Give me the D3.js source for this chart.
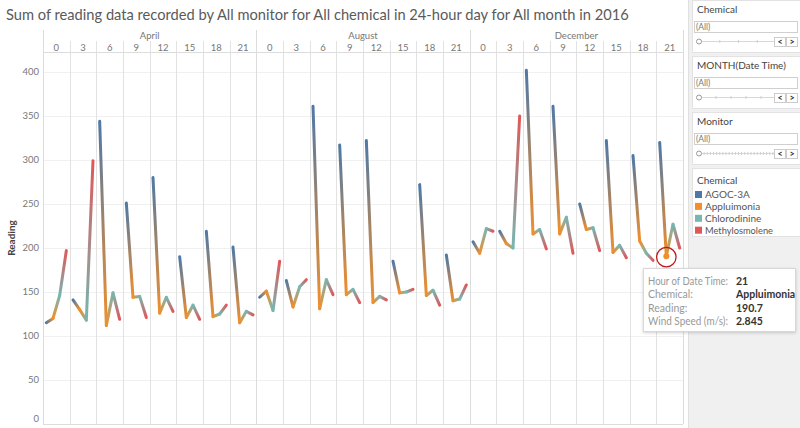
<!DOCTYPE html>
<html><head><meta charset="utf-8">
<script src="https://cdn.jsdelivr.net/npm/d3@7"></script>
<style>
body{margin:0;background:#fff;overflow:hidden}
svg{display:block;font-family:Lato,"Open Sans",sans-serif}
</style></head>
<body><svg id="c" width="800" height="428"></svg>
<script>
// ---- data ----
const months = ["April", "August", "December"];
const hours = [0, 3, 6, 9, 12, 15, 18, 21];
const chemicals = ["AGOC-3A", "Appluimonia", "Chlorodinine", "Methylosmolene"];
const chemColors = ["#4e79a7", "#f28e2b", "#76b7b2", "#e15759"];
const yTicks = [0, 50, 100, 150, 200, 250, 300, 350, 400];
// readings per hour: [AGOC-3A, Appluimonia, Chlorodinine, Methylosmolene]
const aprilReadings = [
  [115, 120, 146, 197], [141, 130, 118, 299], [344, 112, 149, 119], [251, 144, 145, 121],
  [280, 126, 144, 128], [190, 121, 135, 119], [219, 122, 125, 135], [201, 115, 128, 124]
];
const augustReadings = [
  [144, 151, 129, 185], [163, 133, 156, 164], [361, 131, 164, 147], [317, 147, 153, 138],
  [322, 138, 145, 141], [185, 149, 150, 153], [272, 146, 152, 135], [192, 140, 142, 158]
];
const decemberReadings = [
  [207, 194, 222, 219], [219, 205, 200, 350], [402, 216, 221, 199], [361, 216, 235, 194],
  [250, 221, 223, 197], [322, 195, 203, 189], [305, 208, 194, 186], [320, 190.7, 227, 200]
];
const monthReadings = [aprilReadings, augustReadings, decemberReadings];
const tooltipLabels = ["Hour of Date Time:", "Chemical:", "Reading:", "Wind Speed (m/s):"];
const tooltipValues = ["21", "Appluimonia", "190.7", "2.845"];
const highlight = {month: "December", hour: 21, chem: "Appluimonia"};
const filterTitles = ["Chemical", "MONTH(Date Time)", "Monitor"];

// ---- helpers ----
function fit(sel, maxW) {
  sel.each(function () {
    const w = this.getComputedTextLength();
    if (w > maxW) d3.select(this).attr("textLength", maxW).attr("lengthAdjust", "spacingAndGlyphs");
  });
  return sel;
}

// ---- layout ----
const svg = d3.select("#c");
const L = 43, R = 683, T = 52, B = 424;
const defs = svg.append("defs");

const cols = [];
months.forEach(m => hours.forEach(h => cols.push(m + "|" + h)));
const x = d3.scaleBand().domain(cols).range([L, R]);
const xc = d3.scaleBand().domain(chemicals).range([0, x.bandwidth()]);
const monthX = d3.scaleBand().domain(months).range([L, R]);
const y = d3.scaleLinear().domain([0, 422.7]).range([B, T]);
const color = d3.scaleOrdinal().domain(chemicals).range(chemColors);

// title (font size tuned to span the reference width)
const title = svg.append("text").attr("x", 6).attr("y", 20).attr("font-size", 16).attr("fill", "#5a5a5a")
  .text("Sum of reading data recorded by All monitor for All chemical in 24-hour day for All month in 2016");
const tw = title.node().getComputedTextLength();
title.attr("font-size", Math.min(17, 16 * 623 / tw));

// horizontal gridlines
svg.append("g").selectAll("line").data(yTicks.slice(1)).join("line")
  .attr("x1", L).attr("x2", R).attr("y1", d => Math.round(y(d)) + 0.5).attr("y2", d => Math.round(y(d)) + 0.5)
  .attr("stroke", "#f0f0f0");

// vertical hour separators
svg.append("g").selectAll("line").data(cols.slice(1)).join("line")
  .attr("x1", d => Math.round(x(d)) + 0.5).attr("x2", d => Math.round(x(d)) + 0.5)
  .attr("y1", 41).attr("y2", B).attr("stroke", "#e2e2e2");
// month separators and borders
svg.append("g").selectAll("line").data(months.concat(["end"])).join("line")
  .attr("x1", d => Math.round(d === "end" ? R : monthX(d)) + 0.5)
  .attr("x2", d => Math.round(d === "end" ? R : monthX(d)) + 0.5)
  .attr("y1", 30).attr("y2", B).attr("stroke", "#dcdcdc");
svg.append("line").attr("x1", L).attr("x2", R).attr("y1", T + 0.5).attr("y2", T + 0.5).attr("stroke", "#dcdcdc");
svg.append("line").attr("x1", L).attr("x2", R).attr("y1", B + 0.5).attr("y2", B + 0.5).attr("stroke", "#dcdcdc");

// header labels
svg.append("g").selectAll("text").data(months).join("text")
  .attr("x", d => monthX(d) + monthX.bandwidth() / 2).attr("y", 39)
  .attr("text-anchor", "middle").attr("font-size", 9.5).attr("fill", "#777").text(d => d);
svg.append("g").selectAll("text").data(cols).join("text")
  .attr("x", d => x(d) + x.bandwidth() / 2).attr("y", 50.5)
  .attr("text-anchor", "middle").attr("font-size", 9.5).attr("fill", "#777").text(d => d.split("|")[1]);

// y axis labels
svg.append("g").selectAll("text").data(yTicks).join("text")
  .attr("x", 39).attr("y", d => y(d) + (d === 0 ? -2.5 : 3.2))
  .attr("text-anchor", "end").attr("font-size", 9.5).attr("fill", "#777").text(d => d);
svg.append("text").attr("transform", "translate(15,238) rotate(-90)")
  .attr("text-anchor", "middle").attr("font-size", 10).attr("fill", "#444").attr("font-weight", 700).text("Reading");

// lines with gradient segments
const segs = [];
months.forEach((m, mi) => hours.forEach((h, hi) => {
  const vals = monthReadings[mi][hi];
  for (let i = 0; i < 3; i++) {
    segs.push({id: `g${mi}_${hi}_${i}`,
      x1: x(m + "|" + h) + xc(chemicals[i]) + xc.bandwidth() / 2, y1: y(vals[i]),
      x2: x(m + "|" + h) + xc(chemicals[i + 1]) + xc.bandwidth() / 2, y2: y(vals[i + 1]),
      c1: color(chemicals[i]), c2: color(chemicals[i + 1])});
  }
}));
const grads = defs.selectAll("linearGradient").data(segs).join("linearGradient")
  .attr("id", d => d.id).attr("gradientUnits", "userSpaceOnUse")
  .attr("x1", d => d.x1).attr("y1", d => d.y1).attr("x2", d => d.x2).attr("y2", d => d.y2);
grads.append("stop").attr("offset", 0).attr("stop-color", d => d.c1);
grads.append("stop").attr("offset", 1).attr("stop-color", d => d.c2);
svg.append("g").selectAll("line").data(segs).join("line")
  .attr("x1", d => d.x1).attr("y1", d => d.y1).attr("x2", d => d.x2).attr("y2", d => d.y2)
  .attr("stroke", d => `url(#${d.id})`).attr("stroke-width", 3).attr("stroke-linecap", "round");

// highlighted point
const hmi = months.indexOf(highlight.month), hhi = hours.indexOf(highlight.hour), hci = chemicals.indexOf(highlight.chem);
const hx = x(highlight.month + "|" + highlight.hour) + xc(highlight.chem) + xc.bandwidth() / 2;
const hy = y(monthReadings[hmi][hhi][hci]);
svg.append("circle").attr("cx", hx).attr("cy", hy).attr("r", 3).attr("fill", color(highlight.chem));
svg.append("circle").attr("cx", hx).attr("cy", hy + 1).attr("r", 9.7).attr("fill", "none")
  .attr("stroke", "#c0161c").attr("stroke-width", 1.3);

// right panel
svg.append("rect").attr("x", 688).attr("y", 0).attr("width", 112).attr("height", 428).attr("fill", "#f0f0f0");
svg.append("line").attr("x1", 688.5).attr("x2", 688.5).attr("y1", 0).attr("y2", 428).attr("stroke", "#e0e0e0");
const cardTops = [0, 56, 112];
filterTitles.forEach((t, i) => {
  const t0 = cardTops[i];
  const g = svg.append("g");
  g.append("rect").attr("x", 692.5).attr("y", t0 + 0.5).attr("width", 110).attr("height", 52)
    .attr("fill", "#fff").attr("stroke", "#e2e2e2");
  fit(g.append("text").attr("x", 697).attr("y", t0 + 13).attr("font-size", 10).attr("fill", "#444").text(t), 96);
  g.append("rect").attr("x", 694.5).attr("y", t0 + 21.5).attr("width", 103).attr("height", 11)
    .attr("fill", "#fff").attr("stroke", "#cfcfcf");
  g.append("text").attr("x", 696).attr("y", t0 + 30).attr("font-size", 8.5).attr("fill", "#777").text("(All)");
  g.append("line").attr("x1", 701).attr("x2", 776).attr("y1", t0 + 41.5).attr("y2", t0 + 41.5).attr("stroke", "#d8d8d8");
  const nt = [4, 5, 24][i];
  d3.range(1, nt).forEach(k => g.append("line")
    .attr("x1", 701 + k * 75 / nt).attr("x2", 701 + k * 75 / nt).attr("y1", t0 + 40).attr("y2", t0 + 43).attr("stroke", "#d0d0d0"));
  g.append("circle").attr("cx", 699).attr("cy", t0 + 41.5).attr("r", 2.5).attr("fill", "#fff").attr("stroke", "#999");
  [["<", 780], [">", 792]].forEach(([s, bx]) => {
    g.append("rect").attr("x", bx - 5.5).attr("y", t0 + 37.5).attr("width", 11).attr("height", 9)
      .attr("fill", "#fff").attr("stroke", "#ccc");
    g.append("text").attr("x", bx).attr("y", t0 + 45).attr("text-anchor", "middle").attr("font-size", 9)
      .attr("font-weight", 700).attr("fill", "#333").text(s);
  });
});
// legend card
const lg = svg.append("g");
lg.append("rect").attr("x", 692.5).attr("y", 168.5).attr("width", 110).attr("height", 68)
  .attr("fill", "#fff").attr("stroke", "#e2e2e2");
lg.append("text").attr("x", 697).attr("y", 183.5).attr("font-size", 10).attr("fill", "#444").text("Chemical");
chemicals.forEach((c, i) => {
  lg.append("rect").attr("x", 695).attr("y", 191 + i * 11.9).attr("width", 7).attr("height", 7).attr("fill", color(c));
  fit(lg.append("text").attr("x", 705).attr("y", 198 + i * 11.9).attr("font-size", 10).attr("fill", "#555").text(c), 68);
});

// tooltip
const sh = defs.append("filter").attr("id", "sh").attr("x", "-10%").attr("y", "-10%").attr("width", "130%").attr("height", "140%");
sh.append("feDropShadow").attr("dx", 0).attr("dy", 1).attr("stdDeviation", 1.5).attr("flood-color", "#000").attr("flood-opacity", 0.18);
svg.append("rect").attr("x", 643.5).attr("y", 268.5).attr("width", 152).attr("height", 63)
  .attr("fill", "#fff").attr("stroke", "#d8d8d8").attr("filter", "url(#sh)");
tooltipLabels.forEach((t, i) => {
  fit(svg.append("text").attr("x", 648).attr("y", 285 + i * 13.3).attr("font-size", 10.5).attr("fill", "#999").text(t), 80);
  svg.append("text").attr("x", 736).attr("y", 285 + i * 13.3).attr("font-size", 10.5)
    .attr("fill", "#333").attr("font-weight", 700).text(tooltipValues[i]);
});
</script></body></html>
